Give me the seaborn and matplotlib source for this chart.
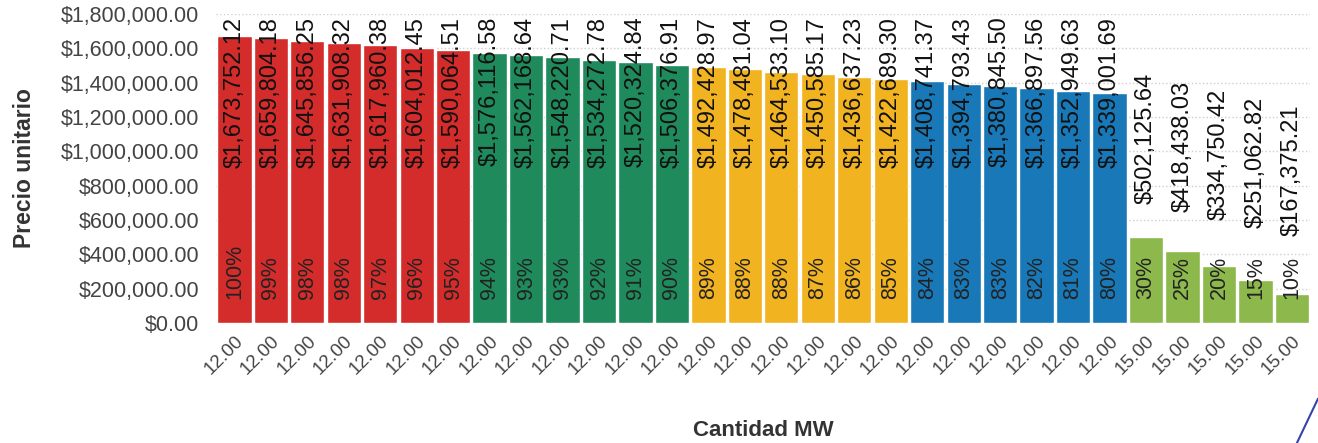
import matplotlib
matplotlib.use("Agg")
import matplotlib.pyplot as plt
import pandas as pd
import seaborn as sns
from matplotlib.lines import Line2D
from matplotlib.ticker import FuncFormatter, MultipleLocator

# data
cantidad_mw = ["12.00"] * 25 + ["15.00"] * 5
precio = [
    1673752.12, 1659804.18, 1645856.25, 1631908.32, 1617960.38, 1604012.45, 1590064.51,
    1576116.58, 1562168.64, 1548220.71, 1534272.78, 1520324.84, 1506376.91,
    1492428.97, 1478481.04, 1464533.10, 1450585.17, 1436637.23, 1422689.30,
    1408741.37, 1394793.43, 1380845.50, 1366897.56, 1352949.63, 1339001.69,
    502125.64, 418438.03, 334750.42, 251062.82, 167375.21,
]
porcentaje = [100, 99, 98, 98, 97, 96, 95,
              94, 93, 93, 92, 91, 90,
              89, 88, 88, 87, 86, 85,
              84, 83, 83, 82, 81, 80,
              30, 25, 20, 15, 10]
grupo = ["A"] * 7 + ["B"] * 6 + ["C"] * 6 + ["D"] * 6 + ["E"] * 5
colores = {"A": "#D42B2B", "B": "#1F8A5C", "C": "#F2B320", "D": "#1878B8", "E": "#8DB84C"}

df = pd.DataFrame({"pos": range(len(precio)), "precio": precio,
                   "grupo": grupo, "pct": porcentaje})

sns.set_theme(style="white")
plt.rcParams["font.family"] = ["Liberation Sans", "DejaVu Sans"]

fig = plt.figure(figsize=(13.18, 4.43), dpi=100)
ax = fig.add_axes([0.164, 0.271, 0.830, 0.697])

sns.barplot(data=df, x="pos", y="precio", hue="grupo", palette=colores,
            dodge=False, legend=False, width=0.94, ax=ax, saturation=1)

ax.set_ylim(0, 1800000)
ax.set_xlim(-0.5, len(precio) - 0.5)
ax.yaxis.set_major_locator(MultipleLocator(200000))
ax.yaxis.set_major_formatter(FuncFormatter(lambda v, _: f"${v:,.2f}"))
ax.grid(axis="y", color="#cfcfcf", linestyle=":", linewidth=1)
ax.set_axisbelow(True)
for s in ax.spines.values():
    s.set_visible(False)

ax.set_xticks(range(len(precio)))
ax.set_xticklabels(cantidad_mw, rotation=45, ha="right", rotation_mode="anchor",
                   fontsize=13.5, color="#444444")
ax.tick_params(axis="y", labelsize=15.5, labelcolor="#444444", length=0, pad=12)
ax.tick_params(axis="x", length=0, pad=7)

ax.set_ylabel("Precio unitario", fontsize=16.5, fontweight="bold", color="#333333", labelpad=18)
ax.set_xlabel("Cantidad MW", fontsize=16, fontweight="bold", color="#333333", labelpad=30)

for i, (v, p) in enumerate(zip(precio, porcentaje)):
    txt = f"${v:,.2f}"
    if v > 1000000:
        ax.text(i, 1785000, txt, rotation=90, ha="center", va="top",
                fontsize=17, color="#111111")
    else:
        ax.text(i, 0.55 * v + 800000, txt, rotation=90, ha="center", va="center",
                fontsize=17, color="#111111")
    ax.text(i, 140000, f"{p}%", rotation=90, ha="center", va="bottom",
            fontsize=15.5, color="#222222")

# pen stroke in the bottom-right corner of the scan
fig.add_artist(Line2D([0.984, 1.0], [0.0, 0.10], transform=fig.transFigure,
                      color="#3344AA", linewidth=1.5))

fig.savefig("out.png", dpi=100)
